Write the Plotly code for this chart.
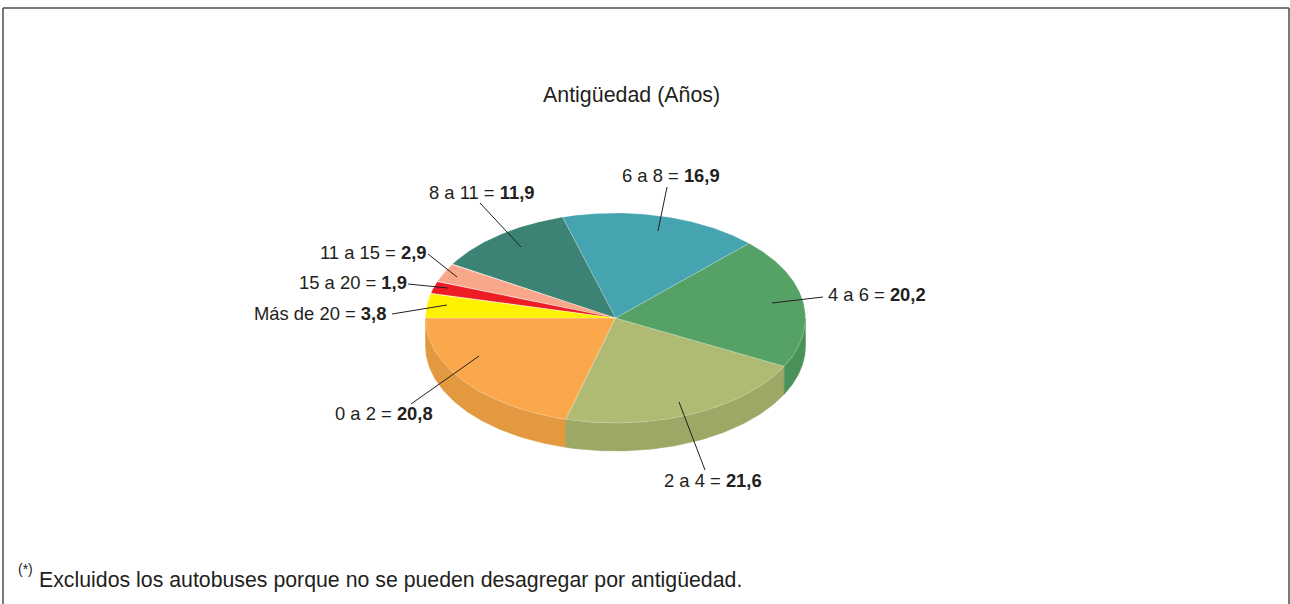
import numpy as np
import plotly.graph_objects as go

title = "Antigüedad (Años)"
footnote_mark = "(*)"
footnote = "Excluidos los autobuses porque no se pueden desagregar por antigüedad."
categories = ["0 a 2", "2 a 4", "4 a 6", "6 a 8", "8 a 11", "11 a 15", "15 a 20", "Más de 20"]
values = [20.8, 21.6, 20.2, 16.9, 11.9, 2.9, 1.9, 3.8]
top_colors = ["#FBA84C", "#AFBB73", "#56A266", "#45A4B0", "#3D8375", "#F9A78B", "#EE1D25", "#FFF200"]
side_colors = ["#E2993F", "#9DA866", "#4A9259", "#45A4B0", "#3D8375", "#F9A78B", "#EE1D25", "#FFF200"]
# label anchor (x, y, xanchor) and leader line end points, in page pixels
label_pos = [(435, 413, "right"), (764, 480, "right"), (826, 294, "left"), (722, 175, "right"),
             (537, 192, "right"), (429, 252, "right"), (409, 282, "right"), (388, 313, "right")]
leaders = [((411, 404), (479, 356)), ((705, 470), (679, 402)), ((823, 297), (772, 303)),
           ((667, 187), (658, 231)), ((480, 203), (521, 247)), ((428, 254), (457, 277)),
           ((408, 284), (448, 288)), ((392, 314), (447, 305))]

CX, CY, RX, RY, DEPTH = 615.5, 318, 190, 105, 28
W, H = 1290, 604


def ellipse(t_deg, dy=0):
    t = np.radians(t_deg)
    return CX - RX * np.cos(t), CY + RY * np.sin(t) + dy


fig = go.Figure()
edges = np.concatenate([[0], np.cumsum(values)]) / sum(values) * 360

# side wall (only the front half of the disc, t in 0..180)
for i in range(len(values)):
    a, b = edges[i], min(edges[i + 1], 180)
    if a >= 180:
        continue
    t = np.linspace(a, b, 80)
    x1, y1 = ellipse(t)
    x2, y2 = ellipse(t[::-1], DEPTH)
    fig.add_trace(go.Scatter(x=np.r_[x1, x2, x1[0]], y=np.r_[y1, y2, y1[0]], mode="lines",
                             fill="toself", fillcolor=side_colors[i],
                             line=dict(color=side_colors[i], width=0.5), hoverinfo="skip"))

# top face
for i in range(len(values)):
    t = np.linspace(edges[i], edges[i + 1], 120)
    x, y = ellipse(t)
    fig.add_trace(go.Scatter(x=np.r_[CX, x, CX], y=np.r_[CY, y, CY], mode="lines",
                             fill="toself", fillcolor=top_colors[i],
                             line=dict(color="rgba(255,255,255,0.3)", width=0.7),
                             hoverinfo="skip"))

# leader lines
lx, ly = [], []
for (p, q) in leaders:
    lx += [p[0], q[0], None]
    ly += [p[1], q[1], None]
fig.add_trace(go.Scatter(x=lx, y=ly, mode="lines", line=dict(color="#231F20", width=1), hoverinfo="skip"))

font = "Liberation Sans, Arial, sans-serif"
for c, v, (x, y, anc) in zip(categories, values, label_pos):
    txt = f"{c} = <b>{v:.1f}</b>".replace(".", ",")
    fig.add_annotation(x=x, y=y, text=txt, showarrow=False, xanchor=anc, yanchor="middle",
                       font=dict(family=font, size=18.4, color="#231F20"))
fig.add_annotation(x=631, y=95, text=title, showarrow=False, xanchor="center", yanchor="middle",
                   font=dict(family=font, size=21.4, color="#231F20"))
fig.add_annotation(x=16, y=569, text=footnote_mark, showarrow=False, xanchor="left", yanchor="middle",
                   font=dict(family=font, size=14, color="#231F20"))
fig.add_annotation(x=37, y=580, text=footnote, showarrow=False, xanchor="left", yanchor="middle",
                   font=dict(family=font, size=21.3, color="#231F20"))

# frame
fig.add_shape(type="line", x0=3, y0=8, x1=1289, y1=8, line=dict(color="#4D4D4F", width=1.5))
fig.add_shape(type="line", x0=3, y0=8, x1=3, y1=604, line=dict(color="#4D4D4F", width=1.5))
fig.add_shape(type="line", x0=1289, y0=8, x1=1289, y1=604, line=dict(color="#4D4D4F", width=1.5))

fig.update_layout(width=W, height=H, margin=dict(l=0, r=0, t=0, b=0), showlegend=False,
                  paper_bgcolor="white", plot_bgcolor="white",
                  xaxis=dict(range=[0, W], visible=False, fixedrange=True),
                  yaxis=dict(range=[H, 0], visible=False, fixedrange=True))
fig.write_html("out.html", config=dict(displayModeBar=False),
               post_script="document.body.style.margin='0';document.body.style.overflow='hidden';")
